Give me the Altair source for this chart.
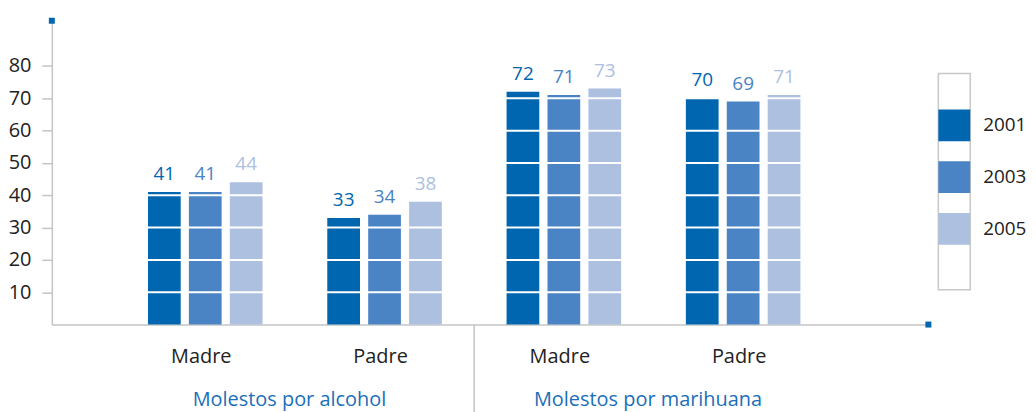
import altair as alt
import pandas as pd

FONT = "Open Sans"

group_names = ["Molestos por alcohol", "Molestos por alcohol", "Molestos por marihuana", "Molestos por marihuana"]
parents = ["Madre", "Padre", "Madre", "Padre"]
keys = ["alcohol|Madre", "alcohol|Padre", "marihuana|Madre", "marihuana|Padre"]
years = ["2001", "2003", "2005"]
v2001 = [41, 33, 72, 70]
v2003 = [41, 34, 71, 69]
v2005 = [44, 38, 73, 71]
colors = ["#0066b0", "#4a84c4", "#adc0e0"]
y_ticks = [10, 20, 30, 40, 50, 60, 70, 80]

W, H = 880, 305

rows = []
for i, k in enumerate(keys):
    for y, vals in zip(years, [v2001, v2003, v2005]):
        rows.append({"key": k, "year": y, "value": vals[i]})
df = pd.DataFrame(rows)

xscale = alt.Scale(domain=keys, paddingInner=0.361, paddingOuter=0.625, align=0.429)
xoff = alt.XOffset("year:N", scale=alt.Scale(paddingInner=0.2, paddingOuter=0))
yscale = alt.Scale(domain=[0, 94], nice=False)
cscale = alt.Scale(domain=years, range=colors)

base = alt.Chart(df)

bars = base.mark_bar().encode(
    x=alt.X("key:N", scale=xscale, sort=keys,
            axis=alt.Axis(title=None, labelExpr="split(datum.value,'|')[1]", ticks=False,
                          domainColor="#c4c4c4", domainWidth=1.5, labelFontSize=20, labelAngle=0,
                          labelPadding=22, labelColor="#222222", labelFont=FONT, labelOffset=-4)),
    xOffset=xoff,
    y=alt.Y("value:Q", scale=yscale,
            axis=alt.Axis(title=None, values=y_ticks, grid=False, domainColor="#c4c4c4", domainWidth=1.5,
                          tickColor="#c4c4c4", tickSize=10, tickWidth=1.5, labelFontSize=20,
                          labelColor="#222222", labelFont=FONT, labelPadding=11)),
    color=alt.Color("year:N", scale=cscale,
                    legend=alt.Legend(title=None, orient="none", legendX=890, legendY=89, padding=0,
                                      symbolType="square", symbolSize=1024, symbolStrokeWidth=0,
                                      rowPadding=20, labelOffset=13, labelFontSize=19,
                                      labelFont=FONT, labelColor="#222222")),
)

grid = alt.Chart(pd.DataFrame({"t": y_ticks})).mark_rule(color="white", strokeWidth=2).encode(
    y=alt.Y("t:Q", scale=yscale), x=alt.value(1.5), x2=alt.value(W)
)

labels = base.mark_text(baseline="bottom", dy=-8, fontSize=19, font=FONT).encode(
    x=alt.X("key:N", scale=xscale, sort=keys),
    xOffset=xoff,
    y=alt.Y("value:Q", scale=yscale),
    text=alt.Text("value:Q"),
    color=alt.Color("year:N", scale=cscale, legend=None),
)

gdf = pd.DataFrame({"key": [keys[0], keys[2]], "g": [group_names[0], group_names[2]]})
group_text = alt.Chart(gdf).mark_text(fontSize=20, font=FONT, color="#1a6fb8", baseline="alphabetic", dx=27).encode(
    x=alt.X("key:N", scale=xscale, sort=keys, bandPosition=1),
    y=alt.value(387),
    text="g:N",
)

sep = alt.Chart(pd.DataFrame({"key": [keys[1]]})).mark_rule(color="#c4c4c4", strokeWidth=1.5).encode(
    x=alt.value(424),
    y=alt.value(H), y2=alt.value(400),
)

mk = pd.DataFrame({"a": [0]})
m1 = alt.Chart(mk).mark_square(size=36, color="#0066b0", opacity=1).encode(x=alt.value(0), y=alt.value(0))
m2 = alt.Chart(mk).mark_square(size=36, color="#0066b0", opacity=1).encode(x=alt.value(W), y=alt.value(H))

box = alt.Chart(mk).mark_rect(fill="transparent", stroke="#c8c8c8", strokeWidth=1.5).encode(
    x=alt.value(890), x2=alt.value(922), y=alt.value(53), y2=alt.value(270)
)

chart = alt.layer(bars, grid, labels, group_text, sep, m1, m2, box).properties(
    width=W, height=H,
    autosize=alt.AutoSizeParams(type="none"),
    padding={"left": 44, "top": 12, "right": 100, "bottom": 87},
).configure(font=FONT).configure_view(stroke=None)

chart.save("out.html", embed_options={"renderer": "svg", "actions": False})
